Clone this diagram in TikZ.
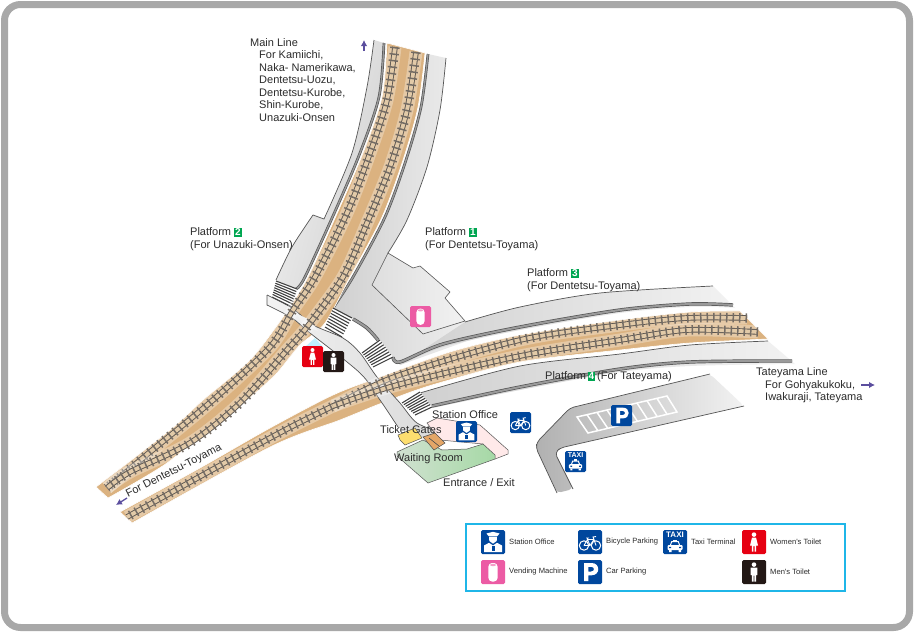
\documentclass[tikz,border=0pt]{standalone}
\usepackage{fontspec}
\setmainfont{Liberation Sans}
\usetikzlibrary{calc,arrows.meta}
\definecolor{framegray}{HTML}{A8A8A8}
\definecolor{pfhi}{HTML}{F2F2F2}
\definecolor{pflo}{HTML}{D0D0D0}
\definecolor{edgegray}{HTML}{555555}
\definecolor{bandgray}{HTML}{9A9A9A}
\definecolor{tanA}{HTML}{DBB280}
\definecolor{tanB}{HTML}{F0DEC6}
\definecolor{railin}{HTML}{E2CAA8}
\definecolor{raildark}{HTML}{5C5650}
\definecolor{sleepercol}{HTML}{746C64}
\definecolor{iconblue}{HTML}{00479D}
\definecolor{iconred}{HTML}{E60012}
\definecolor{iconblack}{HTML}{231815}
\definecolor{iconpink}{HTML}{EC5BA4}
\definecolor{pfgreen}{HTML}{00A651}
\definecolor{arrowpurple}{HTML}{5B4E9E}
\definecolor{legendcyan}{HTML}{1FB6E8}
\definecolor{txtcol}{HTML}{2B2B2B}
\newcommand\badge[1]{{\setlength{\fboxsep}{1pt}\colorbox{pfgreen}{\textcolor{white}{\bfseries\fontsize{10}{10}\selectfont #1}}}}
\newcommand\railway[1]{%
  \draw[railhalo] plot[smooth] coordinates {#1};
  \draw[railpair] plot[smooth] coordinates {#1};
  \draw[sleeperdash] plot[smooth] coordinates {#1};}
\newcommand\stairflight[8]{%
  \fill[stairfill] (#1,#2) -- (#3,#4) -- (#5,#6) -- (#7,#8) -- cycle;
  \foreach \t in {0,0.14,0.28,0.42,0.56,0.70,0.84,1}
    \draw[stairline] ($(#1,#2)!\t!(#7,#8)$) -- ($(#3,#4)!\t!(#5,#6)$);}
\tikzset{
  railhalo/.style={draw=white,opacity=.3,line width=13},
  railpair/.style={draw=raildark,double=railin,double distance=3.8,line width=.9},
  sleeperdash/.style={draw=sleepercol,line width=9.4,dash pattern=on 1.5 off 5},
  pfedge/.style={draw=edgegray,line width=.7},
  band/.style={draw=edgegray,line width=.7,double=bandgray,double distance=1.3},
  wideband/.style={draw=edgegray,line width=.7,double=bandgray,double distance=2},
  stairfill/.style={fill=white},
  stairline/.style={draw=black!75,line width=1.1},
  label/.style={font=\fontsize{11}{12.5}\selectfont,text=txtcol,inner sep=0pt,anchor=west,align=left},
  legendlabel/.style={font=\fontsize{7.6}{8}\selectfont,text=txtcol,inner sep=0pt,anchor=west},
  bluearrow/.style={draw=arrowpurple,line width=1.3,-{Latex[length=6pt,width=6.5pt]}},
  iconbase/.style={rounded corners=1.5},
  iconoffice/.pic={
    \fill[iconblue,iconbase] (0,0) rectangle (24,24);
    \fill[white] (3,22) -- (3,15.5) -- (8,12.8) -- (12,15.5) -- (16,12.8) -- (21,15.5) -- (21,22) -- cycle;
    \fill[white] (8,6.5) -- (16,6.5) -- (15.7,11) -- (12,13.6) -- (8.3,11) -- cycle;
    \fill[white] (5.5,3.5) -- (12,1.8) -- (18.5,3.5) -- (16.5,6) -- (7.5,6) -- cycle;
    \fill[iconblue] (10.5,15.8) rectangle (13.5,21);
  },
  iconbike/.pic={
    \fill[iconblue,iconbase] (0,0) rectangle (24,24);
    \draw[white,line width=1] (6,15.5) circle[radius=4.7] (18,15.5) circle[radius=4.7];
    \draw[white,line width=.9] (6,15.5) -- (9.5,9.5) -- (16,9.5) -- (18,15.5) (9.5,9.5) -- (12,15.5) -- (16,9.5) (6,15.5) -- (12,15.5)
      (16,9.5) -- (15,7) -- (18,6.5) (8,8) -- (11,8) (9.5,8) -- (9.5,9.5);
  },
  icontaxi/.pic={
    \fill[iconblue,iconbase] (0,0) rectangle (24,24);
    \node[transform shape,font=\bfseries\fontsize{8}{8}\selectfont,text=white,inner sep=0pt] (taxiword) at (12,5) {TAXI};
    \fill[white] (10.3,9.6) rectangle (13.7,11.2);
    \draw[white,line width=1] (7.5,15) -- (8.7,11.6) -- (15.3,11.6) -- (16.5,15);
    \fill[white,rounded corners=1] (4.5,15) rectangle (19.5,20.2);
    \fill[white] (6,20) rectangle (8.5,22) (15.5,20) rectangle (18,22);
    \fill[iconblue] (6,16.8) rectangle (8,18.2) (16,16.8) rectangle (18,18.2);
  },
  iconpark/.pic={
    \fill[iconblue,iconbase] (0,0) rectangle (24,24);
    \fill[white,even odd rule] (6,3) -- (13.5,3) .. controls (22.5,3) and (22.5,15.3) .. (13.5,15.3) -- (10.4,15.3) -- (10.4,21) -- (6,21) -- cycle
      (10.4,6.8) -- (13,6.8) .. controls (17,6.8) and (17,11.5) .. (13,11.5) -- (10.4,11.5) -- cycle;
  },
  iconvend/.pic={
    \fill[iconpink,iconbase] (0,0) rectangle (24,24);
    \fill[white,rounded corners=3.6] (7.4,3) rectangle (16.6,21.5);
    \fill[iconpink!60] (12,5) ellipse[x radius=3,y radius=1.2];
  },
  iconwoman/.pic={
    \fill[iconred,iconbase] (0,0) rectangle (24,24);
    \fill[white] (12,4.6) circle[radius=2.3];
    \fill[white] (10,7.5) -- (14,7.5) -- (16,15.5) -- (14.2,15.5) -- (14.2,21.5) -- (12.7,21.5) -- (12.7,16) -- (11.3,16) -- (11.3,21.5) -- (9.8,21.5) -- (9.8,15.5) -- (8,15.5) -- cycle;
  },
  iconman/.pic={
    \fill[iconblack,iconbase] (0,0) rectangle (24,24);
    \fill[white] (12,4.6) circle[radius=2.3];
    \fill[white] (8.6,7.5) -- (15.4,7.5) -- (15.4,15) -- (14.2,15) -- (14.2,21.5) -- (12.4,21.5) -- (12.4,15.5) -- (11.6,15.5) -- (11.6,21.5) -- (9.8,21.5) -- (9.8,15) -- (8.6,15) -- cycle;
  },
}
\begin{document}
\begin{tikzpicture}[x=1pt,y=-1pt]
\useasboundingbox (0,0) rectangle (914,632);
\fill[white] (0,0) rectangle (914,632);
\draw[framegray,line width=7,rounded corners=16] (4.5,4.5) rectangle (909.5,627.5);

% platform 2 (main line, west side)
\path[left color=pfhi,right color=pflo,shading angle=75]
  plot[smooth] coordinates {(374,40) (367,87) (352,153) (324,219)} -- (313,215)
  -- plot[smooth] coordinates {(313,215) (292,247) (276,280)} -- (297,289)
  -- plot[smooth] coordinates {(305,277) (337,207) (360,153) (379,97) (384,43)} -- cycle;
\draw[pfedge] plot[smooth] coordinates {(374,40) (367,87) (352,153) (324,219)} -- (313,215)
  -- plot[smooth] coordinates {(313,215) (292,247) (276,280)};
\draw[band] plot[smooth] coordinates {(384,43) (379,97) (360,153) (337,207) (305,277) (296,289)};

% platform 1, east of the main line
\path[left color=pflo,right color=pfhi!90!pflo]
  plot[smooth] coordinates {(428,54) (421,107) (406,160) (385,217) (353,277) (333,308)}
  -- (352,318) -- (378,340) -- (400,365) -- (470,340) -- (465,322) -- (388,253)
  -- plot[smooth] coordinates {(388,253) (407,220) (427,167) (440,110) (446,58)} -- cycle;
% platform 3
\path[left color=pflo,right color=pfhi]
  plot[smooth] coordinates {(400,365) (443,347) (520,330) (620,313) (690,307) (735,308)}
  -- (713,286)
  -- plot[smooth] coordinates {(713,286) (600,293) (520,307) (465,322)} -- cycle;
\draw[pfedge] plot[smooth] coordinates {(388,253) (407,220) (427,167) (440,110) (446,58)};
\draw[pfedge] plot[smooth] coordinates {(713,286) (600,293) (520,307) (465,322)};
% slab end by the building
\path[left color=pflo!70!white,right color=pfhi,draw=edgegray,line width=.6]
  (388,253) -- (413,268) -- (420,266) -- (450,292) -- (445,298) -- (465,321) -- (423,334) -- (372,285) -- cycle;
\draw[wideband] plot[smooth] coordinates {(353,319) (367,328) (378,340)};
\draw[band] plot[smooth] coordinates {(428,54) (421,107) (406,160) (385,217) (353,277) (333,308)};
\draw[wideband] plot[smooth] coordinates {(393,357) (400,362) (443,344) (520,327) (620,310) (690,304) (733,305)};

% platform 4
\path[left color=pflo,right color=pfhi]
  plot[smooth] coordinates {(420,393) (520,366) (620,354) (690,345) (768,341)} -- (795,364)
  -- plot[smooth] coordinates {(795,364) (690,366) (620,372) (520,390) (432,408)} -- cycle;
\draw[wideband] plot[smooth] coordinates {(432,406) (520,387) (620,369) (690,362) (792,361)};
\draw[pfedge] plot[smooth] coordinates {(420,393) (520,366) (620,354) (690,345) (768,341)};

% track beds
\path[top color=tanA,middle color=tanB,bottom color=tanA,draw=white,line width=.6]
  plot[smooth] coordinates {(387,43) (382,97) (363,153) (340,207) (308,277) (283,317) (250,360) (203,400) (170,430) (96,487)}
  -- (108,498)
  -- plot[smooth] coordinates {(108,498) (167,463) (223,417) (247,400) (275,375) (300,345) (325,323) (350,277) (382,217) (403,160) (418,107) (425,53)} -- cycle;
\path[left color=tanA,middle color=tanB,right color=tanA,draw=white,line width=.6]
  plot[smooth] coordinates {(120,512) (200,468) (270,428) (333,395) (380,377) (450,352) (520,335) (620,320) (690,312) (740,311)}
  -- (768,339)
  -- plot[smooth] coordinates {(768,339) (690,343) (620,350) (520,362) (432,385) (382,403) (340,420) (270,447) (132,523)} -- cycle;

% footbridge
\path[left color=pfhi,right color=pflo!80!white]
  (267,295) -- (292,308)
  -- plot[smooth] coordinates {(292,308) (313,325) (343,338) (360,353) (377,377) (400,403) (417,423) (443,433)}
  -- (423,437) -- (398,427)
  -- plot[smooth] coordinates {(398,427) (380,400) (360,373) (310,333) (292,318) (267,305)} -- cycle;
\draw[pfedge] plot[smooth] coordinates {(267,295) (292,308) (313,325) (343,338) (360,353) (377,377) (400,403) (417,423) (443,433)};
\draw[pfedge] plot[smooth] coordinates {(398,427) (380,400) (360,373) (310,333) (292,318) (267,305)} -- (267,295);
\fill[pfhi] (296,313) -- (310,320) -- (318,331) -- (304,326) -- cycle;

% stairs
\stairflight{276}{281}{297}{289}{292}{307}{272}{297}
\stairflight{333}{308}{352}{318}{342}{337}{325}{327}
\stairflight{362}{353}{380}{340}{393}{357}{373}{367}
\stairflight{402}{403}{420}{392}{432}{407}{415}{415}

% tracks
\railway{(395,47) (387,100) (370,153) (347,213) (315,277) (293,310) (270,347) (213,400) (150,452) (107,488)}
\railway{(416,52) (407,110) (390,167) (367,223) (343,277) (307,327) (287,350) (240,403) (190,443) (130,472) (107,488)}
\railway{(747,318) (687,318) (620,325) (520,340) (397,376) (333,406) (270,438) (127,517)}
\railway{(758,332) (687,330) (620,340) (520,356) (397,385) (333,406)}

% light blue patch by the toilets
\fill[blue!20!cyan!25!white] (305,347) -- (315,338) -- (323,347) -- cycle;

% station building floors
\path[fill=pink!35!white,draw=edgegray,line width=.5] (427,423) -- (437,418) -- (480,425) -- (508,450) -- (508,454) -- (495,459) -- (483,444) -- (440,440) -- cycle;
\path[fill=yellow!60!orange!55!white,draw=edgegray,line width=.5] (398,435) -- (415,428) -- (422,438) -- (405,445) -- (400,440) -- cycle;
\path[left color=green!22!gray!30!white,right color=green!40!gray!50!white,draw=edgegray,line width=.5] (397,452) -- (423,440) -- (442,450) -- (467,449) -- (483,444) -- (495,455) -- (495,459) -- (428,483) -- (397,456) -- cycle;
\path[fill=brown!60!orange!70,draw=black!70,line width=.5] (423,437) -- (435,433) -- (445,443) -- (434,450) -- cycle;
\draw[black!70,line width=.6] (429,438) -- (439,446);

% parking
\path[left color=pflo!85!black,right color=pfhi,rounded corners=4]
  (710,374) -- (744,406) -- (560,448) -- (555,453) -- (573,489) -- (557,493) -- (536,448) -- (537,442) -- (570,408) -- cycle;
\draw[pfedge,rounded corners=4] (710,374) -- (570,408) -- (537,442) -- (536,448) -- (557,493);
\draw[pfedge,rounded corners=4] (744,406) -- (560,448) -- (555,453) -- (573,489);
\draw[white,line width=1.5] (577,417) -- (667,396) -- (677,412) -- (588,433) -- cycle;
\foreach \t in {1,...,8}
  \draw[white,line width=1.5] ($(577,417)!\t/9!(667,396)$) -- ($(588,433)!\t/9!(677,412)$);

% map icons
\pic[scale=.875] at (302,346) {iconwoman};
\pic[scale=.875] at (323,351) {iconman};
\pic[scale=.875] at (410,306) {iconvend};
\pic[scale=.875] at (456,421) {iconoffice};
\pic[scale=.875] at (510,412) {iconbike};
\pic[scale=.875] at (611,405) {iconpark};
\pic[scale=.875] at (565,451) {icontaxi};

% labels
\node[label,anchor=north west] (mainline) at (250,38) {Main Line\\\hspace*{9pt}For Kamiichi,\\\hspace*{9pt}Naka- Namerikawa,\\\hspace*{9pt}Dentetsu-Uozu,\\\hspace*{9pt}Dentetsu-Kurobe,\\\hspace*{9pt}Shin-Kurobe,\\\hspace*{9pt}Unazuki-Onsen};
\coordinate (mainS) at (364,51); \coordinate (mainN) at (364,40);
\draw[bluearrow] (mainS) -- (mainN);
\node[label] (pf2) at (190,239) {Platform \badge{2}\\(For Unazuki-Onsen)};
\node[label] (pf1) at (425,239) {Platform \badge{1}\\(For Dentetsu-Toyama)};
\node[label] (pf3) at (527,280) {Platform \badge{3}\\(For Dentetsu-Toyama)};
\node[label] (pf4) at (545,377) {Platform\kern1.5pt\badge{4}\kern2pt(For Tateyama)};
\node[label,anchor=north west] (tate) at (756,367.5) {Tateyama Line\\\hspace*{9pt}For Gohyakukoku,\\\hspace*{9pt}Iwakuraji, Tateyama};
\coordinate (tateW) at (861,385); \coordinate (tateE) at (875,385);
\draw[bluearrow] (tateW) -- (tateE);
\node[label,rotate=27,anchor=south west,inner sep=0pt] (toyama) at (129,500) {For Dentetsu-Toyama};
\coordinate (toyA) at (127,498); \coordinate (toyB) at (116,505);
\draw[bluearrow] (toyA) -- (toyB);
\node[label] (so) at (432,415) {Station Office};
\node[label] (tg) at (380,430) {Ticket Gates};
\node[label] (wr) at (394,459) {Waiting Room};
\node[label] (ee) at (443,483) {Entrance / Exit};

% legend
\draw[legendcyan,line width=2] (466,523.5) rectangle (845,591);
\pic at (481,530) {iconoffice};
\pic at (578,530) {iconbike};
\pic at (663,530) {icontaxi};
\pic at (742,530) {iconwoman};
\pic at (481,560) {iconvend};
\pic at (578,560) {iconpark};
\pic at (742,560) {iconman};
\node[legendlabel] (l1) at (509,542) {Station Office};
\node[legendlabel] (l2) at (606,542) {Bicycle Parking};
\node[legendlabel] (l3) at (691,542) {Taxi Terminal};
\node[legendlabel] (l4) at (770,542) {Women\textquotesingle s Toilet};
\node[legendlabel] (l5) at (509,571.5) {Vending Machine};
\node[legendlabel] (l6) at (606,571.5) {Car Parking};
\node[legendlabel] (l7) at (770,571.5) {Men\textquotesingle s Toilet};
\end{tikzpicture}
\end{document}
